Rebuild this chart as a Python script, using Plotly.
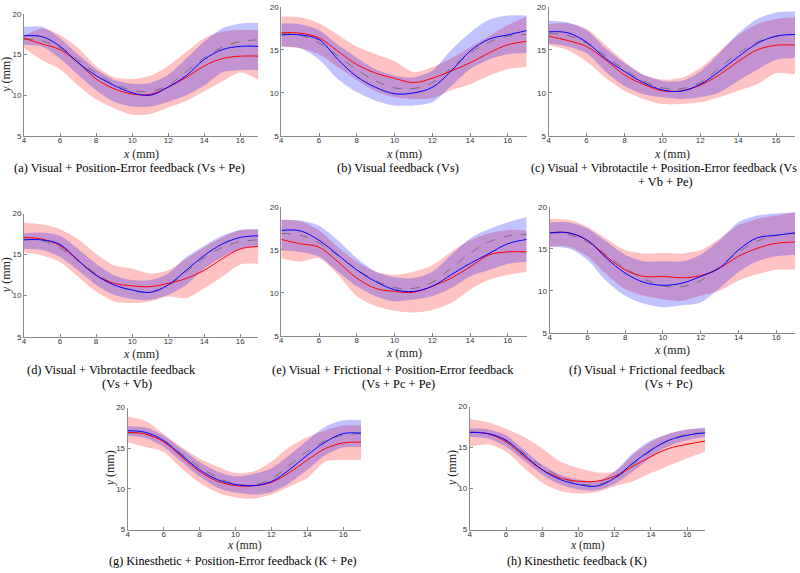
import plotly.graph_objects as go

X = [4, 5, 6, 7, 8, 9, 10, 11, 12, 13, 14, 15, 16, 17]
REF = [16.9, 16.7, 15.8, 14.3, 12.7, 11.4, 10.6, 10.5, 11.2, 12.9, 14.6, 15.9, 16.6, 16.8]

A_RED = [17.0, 16.3, 15.6, 14.0, 12.0, 10.8, 10.15, 10.1, 11.0, 12.2, 13.6, 14.5, 14.8, 14.8]
A_RED_LO = [15.8, 14.3, 13.2, 11.2, 9.5, 8.4, 7.6, 7.7, 8.5, 9.3, 10.5, 11.7, 12.8, 11.9]
A_RED_HI = [17.3, 18.2, 17.4, 15.8, 13.6, 12.2, 12.0, 12.4, 13.6, 15.3, 17.0, 17.8, 18.0, 18.0]
A_BLUE = [17.3, 17.2, 16.0, 14.0, 12.4, 11.2, 10.3, 10.0, 11.0, 12.4, 14.4, 15.6, 16.0, 16.0]
A_BLUE_LO = [16.2, 16.0, 14.5, 12.5, 10.6, 9.2, 8.6, 8.6, 9.2, 10.0, 11.2, 12.8, 13.1, 13.1]
A_BLUE_HI = [18.4, 18.4, 17.0, 15.0, 13.2, 11.9, 11.4, 11.5, 12.5, 14.5, 16.6, 18.2, 18.8, 18.9]

B_RED = [17.0, 16.95, 16.4, 14.85, 13.3, 12.3, 11.7, 11.2, 11.7, 12.55, 13.5, 14.65, 15.6, 16.0]
B_RED_LO = [15.4, 15.2, 14.5, 13.0, 11.5, 10.2, 9.5, 9.3, 9.4, 10.3, 11.0, 12.0, 12.75, 13.0]
B_RED_HI = [18.9, 18.8, 18.1, 16.75, 15.4, 14.5, 13.7, 12.4, 13.0, 14.0, 15.3, 16.6, 17.9, 18.9]
B_BLUE = [16.75, 16.75, 16.2, 13.9, 11.9, 10.65, 9.9, 10.0, 10.65, 12.55, 14.85, 16.25, 16.75, 17.25]
B_BLUE_LO = [15.4, 15.2, 13.9, 11.6, 10.1, 9.1, 8.55, 8.55, 8.9, 10.8, 12.75, 13.9, 14.5, 14.65]
B_BLUE_HI = [18.1, 18.0, 17.3, 15.6, 14.1, 12.75, 12.0, 11.8, 12.6, 15.0, 17.0, 18.5, 19.0, 19.0]

C_RED = [16.6, 16.1, 15.4, 13.85, 12.1, 11.0, 10.25, 10.25, 10.9, 12.1, 13.65, 15.0, 15.55, 15.55]
C_RED_LO = [15.55, 15.0, 13.65, 11.75, 10.25, 9.3, 8.7, 8.7, 8.9, 9.5, 10.25, 11.0, 12.3, 12.15]
C_RED_HI = [18.0, 18.1, 17.45, 15.6, 13.65, 12.1, 11.55, 11.75, 12.9, 14.8, 16.7, 18.0, 18.6, 18.8]
C_BLUE = [17.1, 17.0, 15.9, 14.0, 12.5, 11.2, 10.35, 10.2, 11.0, 12.5, 14.2, 15.75, 16.6, 16.8]
C_BLUE_LO = [15.75, 15.4, 14.6, 12.5, 10.8, 9.85, 9.5, 9.3, 9.5, 10.05, 11.4, 12.7, 13.85, 14.05]
C_BLUE_HI = [18.4, 18.2, 17.3, 15.2, 13.5, 12.1, 11.4, 11.4, 12.5, 14.6, 16.9, 18.6, 19.35, 19.5]

D_RED = [17.1, 16.9, 16.1, 14.3, 12.5, 11.5, 11.2, 11.1, 11.5, 12.1, 13.1, 14.5, 15.7, 16.0]
D_RED_LO = [15.3, 14.9, 14.1, 12.3, 10.5, 9.3, 9.1, 9.3, 9.9, 9.7, 10.9, 12.3, 13.8, 13.9]
D_RED_HI = [18.9, 18.7, 18.1, 16.9, 15.1, 13.7, 13.3, 12.7, 13.1, 14.5, 15.9, 17.1, 18.0, 18.1]
D_BLUE = [16.8, 16.8, 16.25, 14.3, 12.5, 11.3, 10.7, 10.4, 11.3, 13.1, 14.9, 16.3, 17.1, 17.3]
D_BLUE_LO = [15.7, 15.6, 14.7, 13.1, 11.3, 10.1, 9.6, 9.5, 10.1, 11.3, 13.3, 14.7, 15.7, 16.1]
D_BLUE_HI = [17.6, 17.7, 17.3, 15.7, 13.9, 12.5, 11.9, 11.9, 12.7, 14.7, 16.1, 17.3, 18.0, 18.1]

E_RED = [16.2, 15.7, 15.3, 13.6, 11.7, 10.5, 10.15, 10.05, 10.75, 11.7, 13.0, 14.4, 14.75, 14.75]
E_RED_LO = [14.0, 13.6, 14.0, 12.1, 9.6, 8.45, 7.9, 7.7, 8.0, 8.8, 10.35, 11.5, 12.1, 12.45]
E_RED_HI = [18.5, 18.3, 17.25, 15.3, 13.6, 12.45, 12.1, 12.45, 13.2, 14.75, 16.1, 16.9, 17.3, 17.25]
E_BLUE = [17.25, 17.2, 16.1, 14.4, 12.65, 11.3, 10.35, 10.15, 10.75, 12.1, 13.4, 14.55, 15.7, 16.2]
E_BLUE_LO = [14.95, 14.75, 14.2, 12.45, 10.75, 9.6, 9.0, 9.2, 9.6, 10.55, 11.9, 12.65, 13.35, 13.6]
E_BLUE_HI = [18.5, 18.4, 17.8, 16.1, 14.0, 12.45, 11.8, 11.7, 12.45, 14.4, 16.3, 17.4, 18.2, 18.8]

F_RED = [16.9, 16.9, 16.0, 14.1, 12.5, 11.7, 11.7, 11.55, 11.8, 12.7, 14.1, 15.05, 15.65, 15.8]
F_RED_LO = [15.25, 15.25, 14.1, 11.95, 10.2, 9.4, 9.0, 8.8, 9.4, 10.0, 11.2, 11.95, 12.5, 12.5]
F_RED_HI = [18.55, 18.45, 17.6, 16.2, 14.85, 14.45, 14.5, 14.45, 14.85, 16.2, 17.8, 18.55, 18.95, 19.35]
F_BLUE = [16.9, 16.9, 16.0, 13.9, 12.1, 11.0, 10.65, 10.9, 11.7, 12.7, 14.85, 16.3, 16.6, 16.9]
F_BLUE_LO = [15.25, 15.05, 13.7, 11.15, 9.4, 8.45, 8.05, 8.25, 8.6, 10.3, 12.2, 13.5, 14.1, 14.3]
F_BLUE_HI = [18.15, 18.15, 17.4, 15.85, 14.3, 13.5, 13.5, 13.5, 14.3, 16.0, 18.15, 18.95, 19.2, 19.35]

G_RED = [16.95, 16.75, 15.8, 13.95, 12.15, 10.95, 10.4, 10.4, 10.8, 12.0, 13.55, 14.95, 15.65, 15.75]
G_RED_LO = [15.75, 15.15, 14.55, 12.55, 10.75, 9.55, 8.95, 8.8, 9.3, 10.3, 11.35, 13.35, 13.55, 13.55]
G_RED_HI = [18.9, 18.35, 16.75, 15.15, 13.75, 12.75, 11.95, 12.15, 13.35, 15.15, 16.35, 17.2, 17.8, 17.8]
G_BLUE = [17.15, 16.95, 15.95, 14.15, 12.35, 11.15, 10.55, 10.4, 10.9, 12.35, 14.15, 15.75, 16.8, 16.85]
G_BLUE_LO = [16.55, 16.25, 15.15, 13.35, 11.55, 10.15, 9.55, 9.3, 9.6, 10.7, 12.35, 14.15, 15.1, 15.15]
G_BLUE_HI = [17.7, 17.55, 16.55, 14.95, 13.35, 12.15, 11.55, 11.85, 12.55, 14.15, 15.95, 17.65, 18.45, 18.45]

H_RED = [16.85, 16.7, 15.7, 13.9, 12.3, 11.3, 10.9, 10.9, 11.5, 12.7, 13.9, 14.9, 15.4, 15.8]
H_RED_LO = [15.1, 15.4, 14.5, 12.5, 10.7, 9.7, 9.4, 9.6, 10.3, 10.9, 11.9, 12.8, 13.7, 14.5]
H_RED_HI = [18.5, 18.1, 17.3, 16.3, 14.9, 13.3, 12.5, 12.0, 12.1, 14.1, 15.7, 16.7, 17.2, 17.3]
H_BLUE = [16.85, 16.7, 15.9, 14.1, 12.3, 11.1, 10.5, 10.3, 11.3, 13.1, 14.7, 15.9, 16.5, 16.8]
H_BLUE_LO = [16.3, 16.1, 15.1, 13.4, 11.7, 10.5, 9.9, 9.8, 10.6, 12.1, 13.8, 15.2, 15.9, 16.3]
H_BLUE_HI = [17.3, 17.25, 16.5, 14.7, 12.9, 11.7, 11.1, 10.9, 12.1, 14.3, 15.9, 16.7, 17.2, 17.45]

X_TICKS = [4, 6, 8, 10, 12, 14, 16]
Y_TICKS = [5, 10, 15, 20]

CAPTIONS = [
    ("(a) Visual + Position-Error feedback (Vs + Pe)", 128, 167, 12.4),
    ("(b) Visual feedback (Vs)", 397, 167, 12.4),
    ("(c) Visual + Vibrotactile + Position-Error feedback (Vs", 664, 167, 12.1),
    ("+ Vb + Pe)", 665, 181, 12.4),
    ("(d) Visual + Vibrotactile feedback", 110, 372, 12.4),
    ("(Vs + Vb)", 125, 386, 12.4),
    ("(e) Visual + Frictional + Position-Error feedback", 392, 372, 12.4),
    ("(Vs + Pc + Pe)", 397, 386, 12.4),
    ("(f) Visual + Frictional feedback", 647, 372, 12.4),
    ("(Vs + Pc)", 669, 386, 12.4),
    ("(g) Kinesthetic + Position-Error feedback (K + Pe)", 232, 565.5, 12.2),
    ("(h) Kinesthetic feedback (K)", 576, 565.5, 12.2),
]

W, H = 800, 573

# panel pixel boxes: left, right, top, bottom
BOXES = [
    (22, 257, 10, 134),
    (280, 526, 3, 134),
    (548, 795, 3, 134),
    (22, 257, 213, 338),
    (280, 526, 206, 337),
    (549, 795, 206, 334),
    (126, 360, 410, 534),
    (469, 705, 409, 534),
]
PANELS = [
    (A_RED, A_RED_LO, A_RED_HI, A_BLUE, A_BLUE_LO, A_BLUE_HI),
    (B_RED, B_RED_LO, B_RED_HI, B_BLUE, B_BLUE_LO, B_BLUE_HI),
    (C_RED, C_RED_LO, C_RED_HI, C_BLUE, C_BLUE_LO, C_BLUE_HI),
    (D_RED, D_RED_LO, D_RED_HI, D_BLUE, D_BLUE_LO, D_BLUE_HI),
    (E_RED, E_RED_LO, E_RED_HI, E_BLUE, E_BLUE_LO, E_BLUE_HI),
    (F_RED, F_RED_LO, F_RED_HI, F_BLUE, F_BLUE_LO, F_BLUE_HI),
    (G_RED, G_RED_LO, G_RED_HI, G_BLUE, G_BLUE_LO, G_BLUE_HI),
    (H_RED, H_RED_LO, H_RED_HI, H_BLUE, H_BLUE_LO, H_BLUE_HI),
]
YTITLE = [True, False, False, True, False, False, True, True]
XTITLE_OFFSET = [18, 18, 18, 18, 18, 18, 16.5, 16.5]
XTITLE_SIZE = [12, 12, 12, 12, 12, 12, 11.5, 11.5]

SERIF = "Liberation Serif"
SANS = "Liberation Sans"

fig = go.Figure()
layout = {}
annotations = []


def px(v):
    return v / W


def py(v):
    return 1 - v / H


for i, (box, data) in enumerate(zip(BOXES, PANELS)):
    n = "" if i == 0 else str(i + 1)
    xa, ya = "x" + n, "y" + n
    red, red_lo, red_hi, blue, blue_lo, blue_hi = data
    l, r, t, b = box
    common = dict(xaxis=xa, yaxis=ya, mode="lines", hoverinfo="skip", showlegend=False)
    for lo, hi, col in ((red_lo, red_hi, "rgba(255,0,0,0.24)"), (blue_lo, blue_hi, "rgba(0,0,255,0.24)")):
        fig.add_trace(go.Scatter(x=X, y=lo, line=dict(width=0, shape="spline", smoothing=0.8), **common))
        fig.add_trace(go.Scatter(x=X, y=hi, fill="tonexty", fillcolor=col,
                                 line=dict(width=0, shape="spline", smoothing=0.8), **common))
    fig.add_trace(go.Scatter(x=X, y=REF, line=dict(color="#666666", width=0.8, dash="dash", shape="spline"), **common))
    fig.add_trace(go.Scatter(x=X, y=red, line=dict(color="red", width=1, shape="spline"), **common))
    fig.add_trace(go.Scatter(x=X, y=blue, line=dict(color="blue", width=1, shape="spline"), **common))

    axis_common = dict(showgrid=False, zeroline=False, showline=True, linecolor="#8a8a8a", linewidth=1,
                       ticks="inside", ticklen=3, tickcolor="#8a8a8a",
                       tickfont=dict(family=SANS, size=8, color="#333333"), fixedrange=True)
    layout["xaxis" + n] = dict(domain=[px(l), px(r)], range=[4, 17], tickvals=X_TICKS,
                               anchor=ya, ticklabelstandoff=-3, **axis_common)
    layout["yaxis" + n] = dict(domain=[py(b), py(t)], range=[5, 20], tickvals=Y_TICKS,
                               anchor=xa, **axis_common)
    cx = (l + r) / 2
    annotations.append(dict(text="<i>x</i> (mm)", x=px(cx), y=py(b + XTITLE_OFFSET[i]), xref="paper", yref="paper",
                            showarrow=False, font=dict(family=SERIF, size=XTITLE_SIZE[i], color="#222"),
                            xanchor="center", yanchor="middle"))
    if YTITLE[i]:
        annotations.append(dict(text="<i>y</i> (mm)", x=px(l - 18), y=py((t + b) / 2), xref="paper", yref="paper",
                                showarrow=False, textangle=-90, font=dict(family=SERIF, size=12, color="#222"),
                                xanchor="center", yanchor="middle"))

for text, cx, cy, fs in CAPTIONS:
    annotations.append(dict(text=text, x=px(cx), y=py(cy), xref="paper", yref="paper", showarrow=False,
                            font=dict(family=SERIF, size=fs, color="black"),
                            xanchor="center", yanchor="middle"))

fig.update_layout(width=W, height=H, margin=dict(l=0, r=0, t=0, b=0), paper_bgcolor="white",
                  plot_bgcolor="white", annotations=annotations, **layout)
fig.write_html("out.html", config={"displayModeBar": False},
               post_script="document.body.style.margin='0px';document.body.style.padding='0px';")
